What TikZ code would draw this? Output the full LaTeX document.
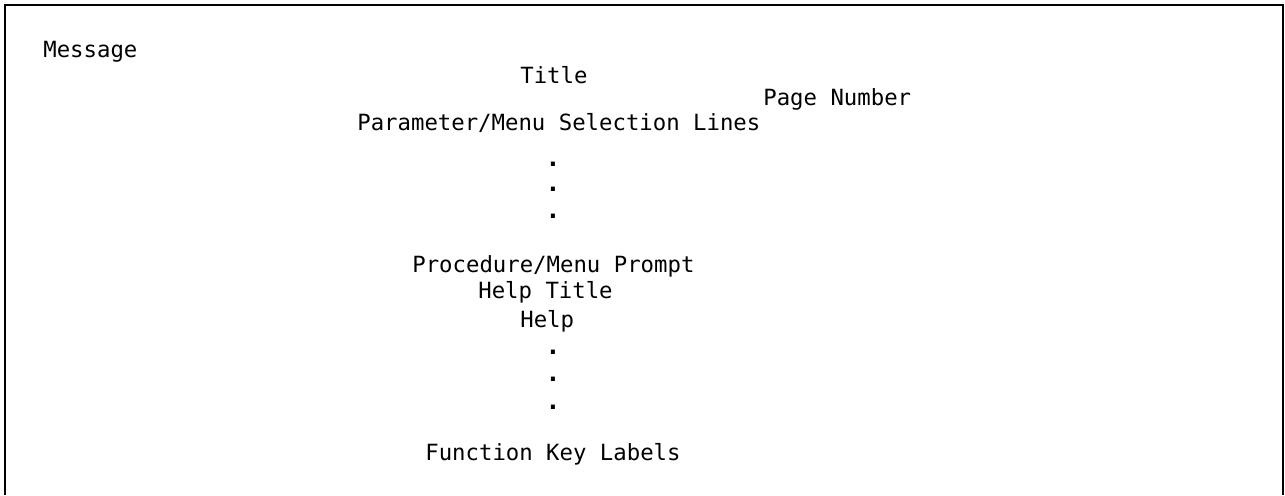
\documentclass[tikz,border=0pt]{standalone}
\usepackage{fontspec}
\setmonofont{DejaVu Sans Mono}
\usepackage{tikz}
\usetikzlibrary{positioning,calc}

\begin{document}
\begin{tikzpicture}[
        x=0.02cm, y=-0.02cm,
        screen/.style={inner sep=0pt, anchor=base west, font=\fontsize{12.7}{15}\selectfont\ttfamily},
        dot/.style={screen, anchor=base, font=\fontsize{14}{15}\selectfont\ttfamily\bfseries},
        frame/.style={line width=1.1pt, color=black}
    ]
        \useasboundingbox (0,0) rectangle (1285,495);

        % Screen frame (open at the bottom)
        \coordinate (fbl) at (5,495);
        \coordinate (ftl) at (5,5);
        \coordinate (ftr) at (1283,5);
        \coordinate (fbr) at (1283,495);
        \draw[frame] (fbl) -- (ftl) -- (ftr) -- (fbr);

        % Header lines
        \node[screen] (msg) at (43,57) {Message};
        \node[screen] (title) at (520,83) {Title};
        \node[screen] (page) at (763,105) {Page Number};

        % Selection area
        \node[screen] (param) at (357,130) {Parameter/Menu Selection Lines};
        \foreach \y [count=\i] in {166,191,218}
            \node[dot] (pdot\i) at (553,\y) {.};

        % Prompt and help area
        \node[screen] (prompt) at (412,272) {Procedure/Menu Prompt};
        \node[screen] (helptitle) at (478,298) {Help Title};
        \node[screen] (help) at (520,327) {Help};
        \foreach \y [count=\i] in {354,381,409}
            \node[dot] (hdot\i) at (553,\y) {.};

        % Bottom line
        \node[screen] (fkeys) at (425,460) {Function Key Labels};
    \end{tikzpicture}
\end{document}
